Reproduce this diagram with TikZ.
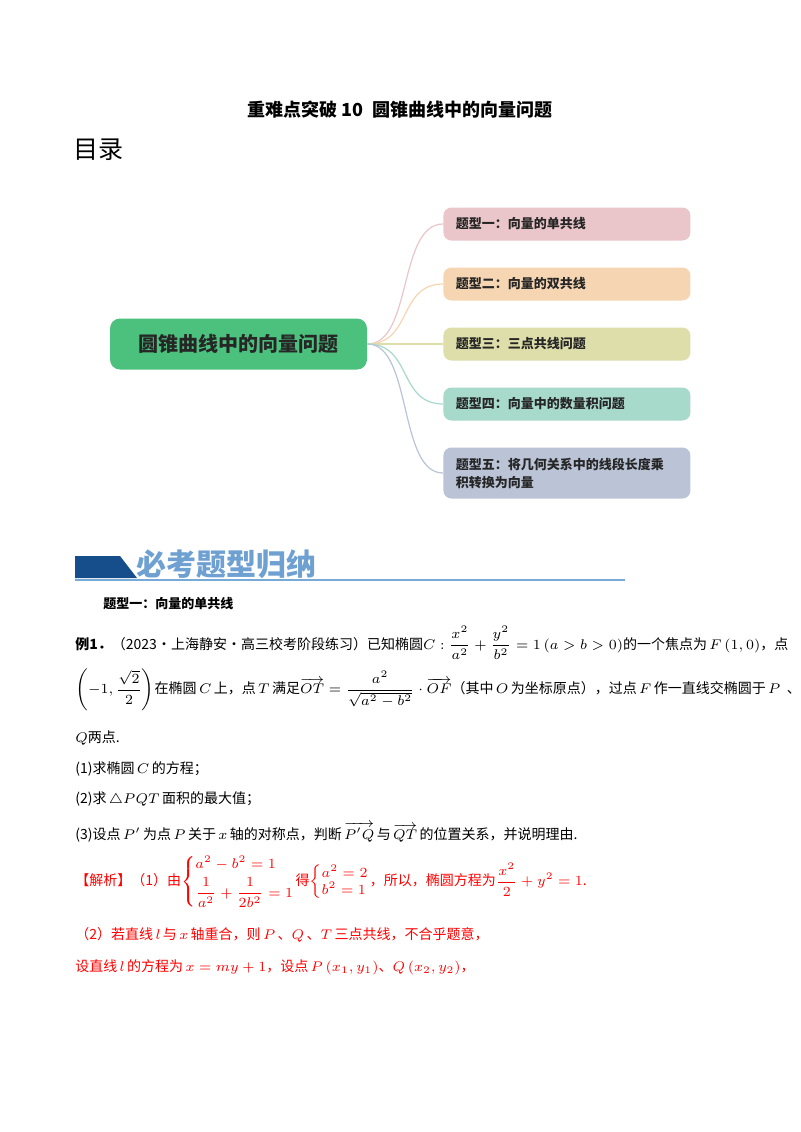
\documentclass[tikz,border=0pt]{standalone}
\usepackage{fontspec}
\usepackage{amsmath}
\setmainfont{Noto Sans CJK SC}
\definecolor{cg}{RGB}{76,193,126}
\definecolor{c1}{RGB}{234,198,202}
\definecolor{c2}{RGB}{246,214,178}
\definecolor{c3}{RGB}{222,222,170}
\definecolor{c4}{RGB}{168,218,204}
\definecolor{c5}{RGB}{186,196,214}
\definecolor{bd}{RGB}{22,78,140}
\definecolor{bl}{RGB}{120,170,215}
\definecolor{bt}{RGB}{110,160,210}
\begin{document}
\begin{tikzpicture}[x=0.5pt,y=-0.5pt,
  br/.style={rounded corners=4pt,minimum width=123.5pt,minimum height=16.5pt,anchor=west,inner xsep=6pt,text width=111pt,align=left,font=\fontsize{6.5}{9}\selectfont\bfseries,text=black!85},
  txt/.style={anchor=west,inner sep=0pt,font=\fontsize{7}{8}\selectfont},
  con/.style={line width=0.6pt}]
\useasboundingbox (0,0) rectangle (800,1132);
\fill[white] (0,0) rectangle (800,1132);
\node[font=\fontsize{9}{10}\selectfont\bfseries] (title) at (400,110) {重难点突破 10\ \ 圆锥曲线中的向量问题};
\node[anchor=west,inner sep=0pt,font=\fontsize{12.5}{13}\selectfont] (ml) at (73,150) {目录};
% mind map
\node[fill=cg,rounded corners=5pt,minimum width=128.5pt,minimum height=25.5pt,font=\fontsize{10}{11}\selectfont\bfseries,text=black!85] (c) at (238.5,344) {圆锥曲线中的向量问题};
\node[br,fill=c1] (b1) at (443,224) {题型一：向量的单共线};
\node[br,fill=c2] (b2) at (443,284) {题型二：向量的双共线};
\node[br,fill=c3] (b3) at (443,344) {题型三：三点共线问题};
\node[br,fill=c4] (b4) at (443,404) {题型四：向量中的数量积问题};
\node[br,fill=c5,minimum height=25.5pt] (b5) at (443,473) {题型五：将几何关系中的线段长度乘\\积转换为向量};
\draw[con,c1] (c.east) .. controls +(45,0) and +(-45,0) .. (b1.west);
\draw[con,c2] (c.east) .. controls +(45,0) and +(-45,0) .. (b2.west);
\draw[con,c3] (c.east) -- (b3.west);
\draw[con,c4] (c.east) .. controls +(45,0) and +(-45,0) .. (b4.west);
\draw[con,c5] (c.east) .. controls +(45,0) and +(-45,0) .. (b5.west);
% banner
\fill[bd] (75,556) -- (120,556) -- (137,578) -- (75,578) -- cycle;
\draw[bl,line width=0.8pt] (75,580) -- (625,580);
\node[anchor=west,inner sep=0pt,text=bt,font=\fontsize{15}{16}\selectfont\bfseries] (ban) at (136,564) {必考题型归纳};
\node[txt,font=\fontsize{6.5}{8}\selectfont\bfseries] (h1) at (103,604) {题型一：向量的单共线};
% example
\node[txt] (l1) at (75,643) {\textbf{例1．}（2023·上海静安·高三校考阶段练习）已知椭圆$C:\dfrac{x^2}{a^2}+\dfrac{y^2}{b^2}=1\left(a>b>0\right)$的一个焦点为\,$F\left(1,0\right)$，点};
\node[txt] (l2) at (75,690) {$\left(-1,\dfrac{\sqrt{2}}{2}\right)$在椭圆\,$C$\,上，点\,$T$\,满足$\overrightarrow{OT}=\dfrac{a^2}{\sqrt{a^2-b^2}}\cdot\overrightarrow{OF}$（其中\,$O$\,为坐标原点），过点\,$F$\,作一直线交椭圆于\,$P$\ \ 、};
\node[txt] (l3) at (75,738) {$Q$两点.};
\node[txt] (l4) at (75,769) {(1)求椭圆\,$C$\,的方程；};
\node[txt] (l5) at (75,799) {(2)求\,$\triangle PQT$\,面积的最大值；};
\node[txt] (l6) at (75,832) {(3)设点\,$P'$\,为点\,$P$\,关于\,$x$\,轴的对称点，判断\,$\overrightarrow{P'Q}$\,与\,$\overrightarrow{QT}$\,的位置关系，并说明理由.};
\node[txt,text=red] (s1) at (75,882) {【解析】（1）由$\left\{\begin{array}{@{}l@{}}a^2-b^2=1\\[2pt]\dfrac{1}{a^2}+\dfrac{1}{2b^2}=1\end{array}\right.$得$\left\{\begin{array}{@{}l@{}}a^2=2\\ b^2=1\end{array}\right.$，所以，椭圆方程为$\dfrac{x^2}{2}+y^2=1$.};
\node[txt,text=red] (s2) at (75,935) {（2）若直线\,$l$\,与\,$x$\,轴重合，则\,$P$\,、$Q$\,、$T$\,三点共线，不合乎题意，};
\node[txt,text=red] (s3) at (75,967) {设直线\,$l$\,的方程为\,$x=my+1$，设点\,$P\left(x_1,y_1\right)$、$Q\left(x_2,y_2\right)$，};
\end{tikzpicture}
\end{document}
